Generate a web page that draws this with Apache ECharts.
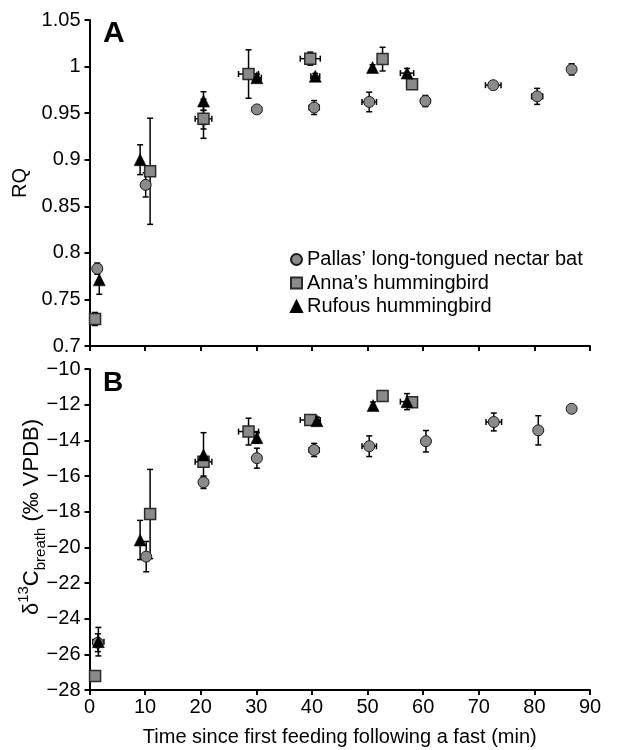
<!DOCTYPE html>
<html><head><meta charset="utf-8">
<script src="https://cdn.jsdelivr.net/npm/echarts@6/dist/echarts.min.js"></script>
<style>html,body{margin:0;padding:0;background:#fff}#c{width:620px;height:750px}</style>
</head><body><div id="c"></div>
<script>
const seriesNames = ["Pallas’ long-tongued nectar bat", "Anna’s hummingbird", "Rufous hummingbird"];
const xTitle = "Time since first feeding following a fast (min)";

// Panel A: RQ
const batA_time    = [1.4, 10.1, 20.5, 30.1, 40.4, 50.3, 60.4, 72.6, 80.5, 86.7];
const batA_rq      = [0.783, 0.873, 0.943, 0.954, 0.956, 0.962, 0.963, 0.980, 0.968, 0.997];
const batA_rqErr   = [0.006, 0.013, 0.010, 0.004, 0.0075, 0.0105, 0.006, 0.003, 0.0086, 0.006];
const batA_timeErr = [0, 0, 0, 0.8, 0.9, 1.3, 0.8, 1.4, 1.0, 0];

const annaA_time    = [1.0, 10.9, 20.5, 28.6, 39.7, 52.7, 58.0];
const annaA_rq      = [0.729, 0.8876, 0.944, 0.992, 1.0085, 1.008, 0.981];
const annaA_rqErr   = [0.007, 0.057, 0.021, 0.026, 0.007, 0.0127, 0];
const annaA_timeErr = [0.6, 0, 1.5, 1.8, 1.8, 0, 0];

const rufA_time    = [1.76, 9.1, 20.5, 30.1, 40.6, 50.9, 57.1];
const rufA_rq      = [0.771, 0.900, 0.963, 0.988, 0.9896, 0.999, 0.993];
const rufA_rqErr   = [0.0155, 0.016, 0.010, 0.004, 0.003, 0.003, 0.005];
const rufA_timeErr = [0, 0, 0, 0.8, 0.8, 0, 1.2];

// Panel B: δ13C breath
const batB_time    = [1.5, 10.2, 20.5, 30.1, 40.4, 50.3, 60.5, 72.7, 80.7, 86.7];
const batB_d13c    = [-25.35, -20.52, -16.35, -15.0, -14.54, -14.33, -14.05, -12.97, -13.44, -12.23];
const batB_d13cErr = [0.5, 0.85, 0.35, 0.56, 0.37, 0.58, 0.6, 0.5, 0.82, 0];
const batB_timeErr = [0, 0, 0, 0, 0.9, 1.3, 0.5, 1.4, 0.6, 0];

const annaB_time    = [1.0, 10.9, 20.5, 28.6, 39.7, 52.7, 58.0];
const annaB_d13c    = [-27.21, -18.13, -15.2, -13.51, -12.86, -11.51, -11.86];
const annaB_d13cErr = [0.2, 2.5, 0.3, 0.75, 0.2, 0, 0];
const annaB_timeErr = [0.6, 0, 1.5, 1.8, 1.8, 0, 0];

const rufB_time    = [1.6, 9.1, 20.5, 30.1, 40.9, 51.0, 57.1];
const rufB_d13c    = [-25.29, -19.59, -14.82, -13.85, -12.9, -12.05, -11.83];
const rufB_d13cErr = [0.8, 1.1, 1.25, 0.3, 0.2, 0.2, 0.45];
const rufB_timeErr = [1.0, 0, 0, 0, 0, 0, 1.2];

const FONT = "'Liberation Sans', Arial, Helvetica, sans-serif";

function rows(xs, ys, yes, xes) {
  return xs.map((x, i) => [x, ys[i], yes[i], xes[i]]);
}

function errRender(params, api) {
  const x = api.value(0), y = api.value(1), ye = api.value(2), xe = api.value(3);
  const ch = [];
  const cap = 3;
  const st = { stroke: '#000', lineWidth: 1.5 };
  if (ye > 0) {
    const a = api.coord([x, y - ye]), b = api.coord([x, y + ye]);
    ch.push({ type: 'line', shape: { x1: a[0], y1: a[1], x2: b[0], y2: b[1] }, style: st });
    ch.push({ type: 'line', shape: { x1: a[0] - cap, y1: a[1], x2: a[0] + cap, y2: a[1] }, style: st });
    ch.push({ type: 'line', shape: { x1: b[0] - cap, y1: b[1], x2: b[0] + cap, y2: b[1] }, style: st });
  }
  if (xe > 0) {
    const a = api.coord([x - xe, y]), b = api.coord([x + xe, y]);
    ch.push({ type: 'line', shape: { x1: a[0], y1: a[1], x2: b[0], y2: b[1] }, style: st });
    ch.push({ type: 'line', shape: { x1: a[0], y1: a[1] - cap, x2: a[0], y2: a[1] + cap }, style: st });
    ch.push({ type: 'line', shape: { x1: b[0], y1: b[1] - cap, x2: b[0], y2: b[1] + cap }, style: st });
  }
  return { type: 'group', children: ch };
}

const markerStyles = [
  { symbol: 'circle', symbolSize: 11, itemStyle: { color: '#8a8a8a', borderColor: '#1a1a1a', borderWidth: 1, opacity: 1 } },
  { symbol: 'rect', symbolSize: 11, itemStyle: { color: '#8a8a8a', borderColor: '#2a2a2a', borderWidth: 1.5, opacity: 1 } },
  { symbol: 'triangle', symbolSize: 12, itemStyle: { color: '#000', borderColor: '#000', borderWidth: 0.5, opacity: 1 } }
];

const panelData = [
  [rows(batA_time, batA_rq, batA_rqErr, batA_timeErr),
   rows(annaA_time, annaA_rq, annaA_rqErr, annaA_timeErr),
   rows(rufA_time, rufA_rq, rufA_rqErr, rufA_timeErr)],
  [rows(batB_time, batB_d13c, batB_d13cErr, batB_timeErr),
   rows(annaB_time, annaB_d13c, annaB_d13cErr, annaB_timeErr),
   rows(rufB_time, rufB_d13c, rufB_d13cErr, rufB_timeErr)]
];

const series = [];
panelData.forEach((panel, p) => {
  panel.forEach((d, s) => {
    series.push({ type: 'custom', xAxisIndex: p, yAxisIndex: p, renderItem: errRender, data: d, z: 2, silent: true });
  });
});
panelData.forEach((panel, p) => {
  panel.forEach((d, s) => {
    series.push(Object.assign({ type: 'scatter', name: seriesNames[s], xAxisIndex: p, yAxisIndex: p,
      data: d.map(r => [r[0], r[1]]), z: 3 + s }, markerStyles[s]));
  });
});

const axisLineCfg = { show: true, onZero: false, lineStyle: { color: '#000', width: 2 } };
const tickCfg = { show: true, inside: false, length: 5, lineStyle: { color: '#000', width: 2 } };

const option = {
  animation: false,
  backgroundColor: '#fff',
  textStyle: { fontFamily: FONT },
  grid: [
    { left: 89.5, top: 20, width: 500.5, height: 326 },
    { left: 89.5, top: 369, width: 500.5, height: 321 }
  ],
  xAxis: [
    { type: 'value', gridIndex: 0, min: 0, max: 90, interval: 10, splitLine: { show: false },
      axisLine: axisLineCfg, axisTick: tickCfg, axisLabel: { show: false } },
    { type: 'value', gridIndex: 1, min: 0, max: 90, interval: 10, splitLine: { show: false },
      axisLine: axisLineCfg, axisTick: tickCfg,
      axisLabel: { color: '#000', fontSize: 20, fontFamily: FONT, margin: 7 },
      name: xTitle, nameLocation: 'middle', nameGap: 37,
      nameTextStyle: { color: '#000', fontSize: 20, fontFamily: FONT } }
  ],
  yAxis: [
    { type: 'value', gridIndex: 0, min: 0.7, max: 1.05, interval: 0.05, splitLine: { show: false },
      axisLine: axisLineCfg, axisTick: tickCfg,
      axisLabel: { color: '#000', fontSize: 20, fontFamily: FONT, margin: 9,
        formatter: v => String(+(+v).toFixed(2)) },
      name: 'RQ', nameLocation: 'middle', nameGap: 55,
      nameTextStyle: { color: '#000', fontSize: 20, fontFamily: FONT } },
    { type: 'value', gridIndex: 1, min: -28, max: -10, interval: 2, splitLine: { show: false },
      axisLine: axisLineCfg, axisTick: tickCfg,
      axisLabel: { color: '#000', fontSize: 20, fontFamily: FONT, margin: 9,
        formatter: v => (v < 0 ? '\u2212' + Math.abs(v) : String(v)) } }
  ],
  legend: {
    data: seriesNames, orient: 'vertical', left: 285, top: 244.5,
    itemWidth: 11, itemHeight: 11, itemGap: 3.5,
    textStyle: { color: '#000', fontSize: 20, fontFamily: FONT }
  },
  graphic: [
    { type: 'text', x: 103, y: 34, style: { text: 'A', fill: '#000', font: 'bold 30px ' + FONT, textAlign: 'left', textVerticalAlign: 'middle' } },
    { type: 'text', x: 103, y: 383, style: { text: 'B', fill: '#000', font: 'bold 28px ' + FONT, textAlign: 'left', textVerticalAlign: 'middle' } },
    { type: 'text', x: 32, y: 517, rotation: Math.PI / 2,
      style: { text: 'δ{sup|13}C{sub|breath} (‰ VPDB)', fill: '#000', fontSize: 22, fontFamily: FONT,
        lineHeight: 32, textAlign: 'center', textVerticalAlign: 'middle',
        rich: {
          sup: { fontSize: 15, fontFamily: FONT, fill: '#000', verticalAlign: 'top', lineHeight: 18 },
          sub: { fontSize: 15, fontFamily: FONT, fill: '#000', verticalAlign: 'bottom', lineHeight: 18 }
        } } }
  ],
  series: series
};

const chart = echarts.init(document.getElementById('c'), null, { renderer: 'canvas' });
chart.setOption(option);
</script>
</body></html>
